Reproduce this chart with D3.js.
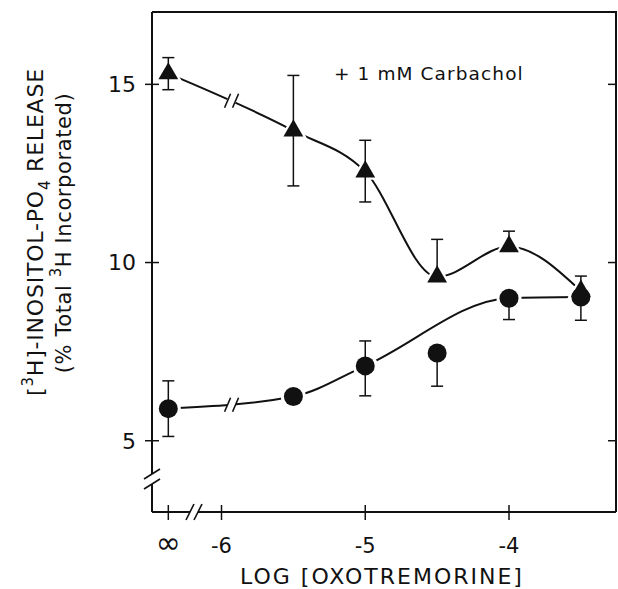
<!DOCTYPE html>
<html>
<head>
<meta charset="utf-8">
<script src="https://cdn.jsdelivr.net/npm/d3@7"></script>
<style>
  body { margin: 0; background: #fff; }
  text { font-family: "DejaVu Sans", sans-serif; fill: #111; }
</style>
</head>
<body>
<div id="chart"></div>
<script>
// log [oxotremorine]; "∞" is the no-drug control
const doses = ["∞", -5.5, -5, -4.5, -4, -3.5]

// + 1 mM carbachol (triangles)
const carbachol = [15.3, 13.7, 12.55, 9.6, 10.45, 9.2]
const carbacholErrUp = [0.45, 1.55, 0.88, 1.05, 0.43, 0.42]
const carbacholErrDown = [0.45, 1.55, 0.85, 0, 0, 0]

// oxotremorine alone (circles)
const oxo = [5.9, 6.24, 7.1, 7.46, 9.0, 9.03]
const oxoErrUp = [0.78, 0, 0.7, 0, 0, 0]
const oxoErrDown = [0.78, 0, 0.84, 0.93, 0.6, 0.65]
const oxoCurveSkip = [-4.5] // the smooth curve passes above this point

const xTickValues = ["∞", -6, -5, -4]
const yTickValues = [5, 10, 15]

const width = 618
const height = 589
const margin = { top: 12, right: 2, bottom: 77, left: 152 }
const infPos = -6.37 // where the ∞ column sits on the log axis
const curveBreakAt = -5.93

const x = d3.scaleLinear().domain([-6.4835, -3.2557]).range([margin.left, width - margin.right])
const y = d3.scaleLinear().domain([3, 17.03]).range([height - margin.bottom, margin.top])
const xPos = d => (d === "∞" ? x(infPos) : x(d))

const svg = d3.select("#chart").append("svg")
  .attr("width", width)
  .attr("height", height)

const x0 = margin.left
const x1 = width - margin.right
const y0 = height - margin.bottom
const y1 = margin.top

const frame = svg.append("g").attr("stroke", "#111").attr("stroke-width", 2).attr("fill", "none")

// top + right edges
frame.append("path").attr("d", `M${x0},${y1}H${x1}V${y0}`)
// left edge with break
frame.append("path").attr("d", `M${x0},${y1}V${y0 - 38}M${x0},${y0 - 28}V${y0}`)
// bottom edge with break
frame.append("path").attr("d", `M${x0},${y0}H${x0 + 38}M${x0 + 46},${y0}H${x1}`)

const slashes = svg.append("g").attr("stroke", "#111").attr("stroke-width", 1.6)
;[y0 - 38, y0 - 28].forEach(yy => {
  slashes.append("line").attr("x1", x0 - 8).attr("y1", yy + 5).attr("x2", x0 + 8).attr("y2", yy - 5)
})
;[x0 + 38, x0 + 46].forEach(xx => {
  slashes.append("line").attr("x1", xx - 4).attr("y1", y0 + 8).attr("x2", xx + 4).attr("y2", y0 - 8)
})

// ticks
const ticks = svg.append("g").attr("stroke", "#111").attr("stroke-width", 1.5)
ticks.selectAll(".xt").data(xTickValues).join("line")
  .attr("x1", d => xPos(d)).attr("x2", d => xPos(d))
  .attr("y1", y0 - 7).attr("y2", y0 + 8)
ticks.selectAll(".yt").data(yTickValues).join("line")
  .attr("x1", x0 - 7).attr("x2", x0 + 7)
  .attr("y1", d => y(d)).attr("y2", d => y(d))
ticks.selectAll(".yr").data(yTickValues).join("line")
  .attr("x1", x1 - 8).attr("x2", x1)
  .attr("y1", d => y(d)).attr("y2", d => y(d))

svg.selectAll(".xl").data(xTickValues).join("text")
  .attr("x", d => xPos(d))
  .attr("y", y0 + 41)
  .attr("text-anchor", "middle")
  .attr("font-size", d => (d === "∞" ? 30 : 21))
  .text(d => (d === "∞" ? "∞" : d))

svg.selectAll(".yl").data(yTickValues).join("text")
  .attr("x", x0 - 16)
  .attr("y", d => y(d))
  .attr("dy", "0.36em")
  .attr("text-anchor", "end")
  .attr("font-size", 22)
  .text(d => d)

// axis titles
svg.append("text")
  .attr("x", 382).attr("y", 584)
  .attr("text-anchor", "middle")
  .attr("font-size", 22)
  .attr("letter-spacing", 2)
  .text("LOG [OXOTREMORINE]")

const yt1 = svg.append("text")
  .attr("transform", "translate(43,232) rotate(-90)")
  .attr("text-anchor", "middle")
  .attr("font-size", 22)
  .attr("letter-spacing", 0.8)
yt1.append("tspan").text("[")
yt1.append("tspan").attr("font-size", 15).attr("dy", -10).text("3")
yt1.append("tspan").attr("dy", 10).text("H]-INOSITOL-PO")
yt1.append("tspan").attr("font-size", 15).attr("dy", 7).text("4")
yt1.append("tspan").attr("dy", -7).text(" RELEASE")

const yt2 = svg.append("text")
  .attr("transform", "translate(71,233) rotate(-90)")
  .attr("text-anchor", "middle")
  .attr("font-size", 21)
  .attr("letter-spacing", 0.6)
yt2.append("tspan").text("(% Total ")
yt2.append("tspan").attr("font-size", 15).attr("dy", -10).text("3")
yt2.append("tspan").attr("dy", 10).text("H Incorporated)")

svg.append("text")
  .attr("x", 334).attr("y", 80)
  .attr("font-size", 18.5)
  .attr("letter-spacing", 1.1)
  .text("+ 1 mM Carbachol")

// curves
const line = d3.line()
  .x(d => xPos(d.dose))
  .y(d => y(d.v))
  .curve(d3.curveMonotoneX)

const triData = doses.map((d, i) => ({ dose: d, v: carbachol[i], up: carbacholErrUp[i], down: carbacholErrDown[i] }))
const dotData = doses.map((d, i) => ({ dose: d, v: oxo[i], up: oxoErrUp[i], down: oxoErrDown[i] }))

const curves = svg.append("g").attr("fill", "none").attr("stroke", "#111").attr("stroke-width", 2)
const triPath = curves.append("path").attr("d", line(triData))
const dotPath = curves.append("path").attr("d", line(dotData.filter(d => !oxoCurveSkip.includes(d.dose))))

// // break on each curve between ∞ and the first dose
function pointAtX(path, px) {
  const node = path.node()
  let lo = 0
  let hi = node.getTotalLength()
  for (let k = 0; k < 40; k++) {
    const mid = (lo + hi) / 2
    if (node.getPointAtLength(mid).x < px) lo = mid
    else hi = mid
  }
  return node.getPointAtLength(lo)
}
;[triPath, dotPath].forEach(p => {
  const pt = pointAtX(p, x(curveBreakAt))
  svg.append("circle").attr("cx", pt.x).attr("cy", pt.y).attr("r", 4.5).attr("fill", "#fff")
  ;[-4, 4].forEach(off => {
    svg.append("line")
      .attr("x1", pt.x + off - 3).attr("y1", pt.y + 7)
      .attr("x2", pt.x + off + 3).attr("y2", pt.y - 7)
      .attr("stroke", "#111").attr("stroke-width", 1.6)
  })
})

// white halos so the curves stop short of the markers
const tri = d3.symbol(d3.symbolTriangle)
svg.append("g").selectAll("path").data(triData).join("path")
  .attr("transform", d => `translate(${xPos(d.dose)},${y(d.v)})`)
  .attr("d", tri.size(330)())
  .attr("fill", "#fff")
svg.append("g").selectAll("circle").data(dotData).join("circle")
  .attr("cx", d => xPos(d.dose)).attr("cy", d => y(d.v))
  .attr("r", 12.5).attr("fill", "#fff")

// error bars
function errorBars(data) {
  const g = svg.append("g").attr("stroke", "#111").attr("stroke-width", 1.5)
  data.forEach(d => {
    const cx = xPos(d.dose)
    if (d.up > 0) {
      g.append("line").attr("x1", cx).attr("x2", cx).attr("y1", y(d.v)).attr("y2", y(d.v + d.up))
      g.append("line").attr("x1", cx - 6).attr("x2", cx + 6).attr("y1", y(d.v + d.up)).attr("y2", y(d.v + d.up))
    }
    if (d.down > 0) {
      g.append("line").attr("x1", cx).attr("x2", cx).attr("y1", y(d.v)).attr("y2", y(d.v - d.down))
      g.append("line").attr("x1", cx - 6).attr("x2", cx + 6).attr("y1", y(d.v - d.down)).attr("y2", y(d.v - d.down))
    }
  })
}
errorBars(triData)
errorBars(dotData)

// markers
svg.append("g").selectAll("path").data(triData).join("path")
  .attr("transform", d => `translate(${xPos(d.dose)},${y(d.v)})`)
  .attr("d", tri.size(170)())
  .attr("fill", "#111")
svg.append("g").selectAll("circle").data(dotData).join("circle")
  .attr("cx", d => xPos(d.dose)).attr("cy", d => y(d.v))
  .attr("r", 9.5).attr("fill", "#111")
</script>
</body>
</html>
